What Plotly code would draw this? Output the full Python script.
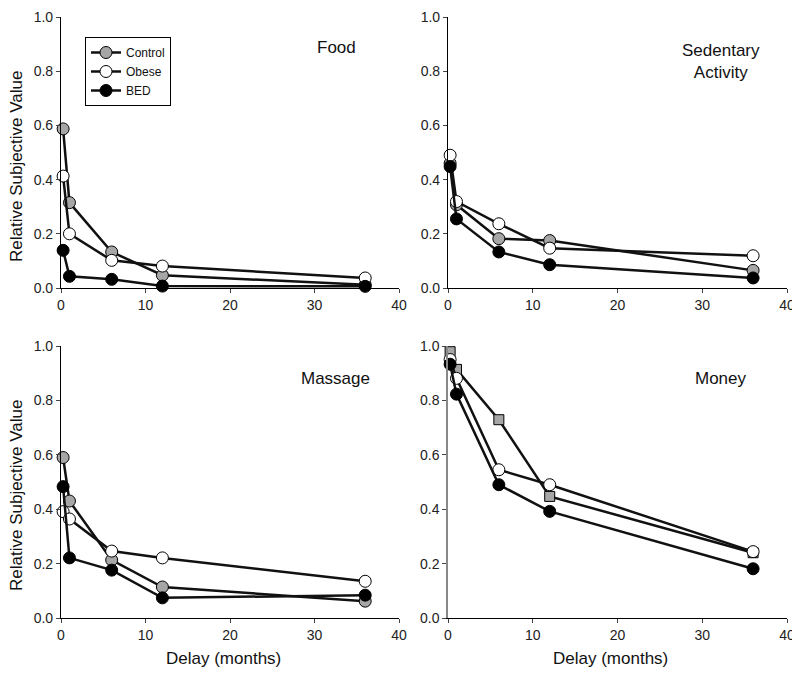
import plotly.graph_objects as go

delays = [0.25, 1, 6, 12, 36]
groups = ["Control", "Obese", "BED"]

food_control = [0.587, 0.315, 0.133, 0.047, 0.012]
food_obese = [0.413, 0.200, 0.102, 0.081, 0.037]
food_bed = [0.139, 0.043, 0.032, 0.007, 0.006]

sed_control = [0.46, 0.307, 0.182, 0.175, 0.065]
sed_obese = [0.490, 0.319, 0.237, 0.147, 0.119]
sed_bed = [0.448, 0.255, 0.133, 0.086, 0.037]

mas_control = [0.590, 0.430, 0.213, 0.114, 0.062]
mas_obese = [0.391, 0.364, 0.246, 0.221, 0.135]
mas_bed = [0.483, 0.221, 0.176, 0.074, 0.084]

mon_control = [0.979, 0.914, 0.729, 0.447, 0.240]
mon_obese = [0.950, 0.881, 0.545, 0.490, 0.244]
mon_bed = [0.933, 0.823, 0.490, 0.392, 0.181]

panel_titles = ["Food", "Sedentary<br>Activity", "Massage", "Money"]
x_ticks = [0, 10, 20, 30, 40]
y_ticks = [0.0, 0.2, 0.4, 0.6, 0.8, 1.0]
y_tick_labels = ["0.0", "0.2", "0.4", "0.6", "0.8", "1.0"]

FONT = "Liberation Sans Narrow, Arial Narrow, Liberation Sans, Arial, sans-serif"
W, H = 800, 675
OFF = 8  # page offset of the plot div


def fx(px):
    return (px - OFF) / W


def fy(py):
    return 1 - (py - OFF) / H


fills = {"Control": "#a6a6a6", "Obese": "#ffffff", "BED": "#000000"}

panels = [
    (food_control, food_obese, food_bed),
    (sed_control, sed_obese, sed_bed),
    (mas_control, mas_obese, mas_bed),
    (mon_control, mon_obese, mon_bed),
]

# pixel geometry of the four plot areas: (x0, x1, ytop, ybottom)
boxes = [(61, 399, 17, 288), (448, 787, 17, 288), (61, 399, 346, 618), (448, 787, 346, 618)]

fig = go.Figure()
for i, (vals, box) in enumerate(zip(panels, boxes)):
    xa = "x" if i == 0 else f"x{i+1}"
    ya = "y" if i == 0 else f"y{i+1}"
    for g, v in zip(groups, vals):
        is_sq = (i == 3 and g == "Control")
        fig.add_trace(go.Scatter(
            x=delays, y=v, mode="lines+markers", name=g,
            xaxis=xa, yaxis=ya, cliponaxis=False,
            showlegend=(i == 0),
            line=dict(color="#111111", width=2.5),
            marker=dict(symbol="square" if is_sq else "circle", size=10 if is_sq else 12,
                        color=fills[g], line=dict(color="#000000", width=1)),
        ))
    x0, x1, yt, yb = box
    axis_color = "#888888" if i == 3 else "#000000"
    fig.update_layout(**{
        ("xaxis" if i == 0 else f"xaxis{i+1}"): dict(
            domain=[fx(x0), fx(x1)], range=[0, 40], anchor=ya, automargin=False,
            tickvals=x_ticks, ticks="outside", ticklen=4,
            showline=True, linecolor="#000000", linewidth=1.2,
            showgrid=False, zeroline=False,
            tickfont=dict(family=FONT, size=14, color="#222")),
        ("yaxis" if i == 0 else f"yaxis{i+1}"): dict(
            domain=[fy(yb), fy(yt)], range=[0, 1], anchor=xa, automargin=False,
            tickvals=y_ticks, ticktext=y_tick_labels, ticks="outside", ticklen=4,
            showline=True, linecolor=axis_color, linewidth=1.5 if i == 3 else 1.2,
            showgrid=False, zeroline=False,
            tickfont=dict(family=FONT, size=14, color="#222")),
    })

annotations = []
title_pos = [(336, 48), (721, 61), (335, 378), (721, 378)]
for t, (px, py) in zip(panel_titles, title_pos):
    annotations.append(dict(text=t, x=fx(px), y=fy(py), xref="paper", yref="paper",
                            showarrow=False, font=dict(family=FONT, size=17, color="#111"),
                            xanchor="center", yanchor="middle", align="center"))
for py in (166, 495):
    annotations.append(dict(text="Relative Subjective Value", x=fx(16), y=fy(py),
                            xref="paper", yref="paper", showarrow=False, textangle=-90,
                            font=dict(family=FONT, size=17, color="#111"),
                            xanchor="center", yanchor="middle"))
for px in (223, 610):
    annotations.append(dict(text="Delay (months)", x=fx(px), y=fy(658),
                            xref="paper", yref="paper", showarrow=False,
                            font=dict(family=FONT, size=17, color="#111"),
                            xanchor="center", yanchor="middle"))

fig.update_layout(
    width=W, height=H,
    margin=dict(l=0, r=0, t=0, b=0, pad=0, autoexpand=False),
    paper_bgcolor="white", plot_bgcolor="white",
    annotations=annotations,
    legend=dict(x=fx(85), y=fy(37), xanchor="left", yanchor="top",
                bordercolor="#000", borderwidth=1, bgcolor="white",
                font=dict(family=FONT, size=12, color="#111"),
                itemwidth=30, tracegroupgap=0),
)

fig.write_html("out.html")
